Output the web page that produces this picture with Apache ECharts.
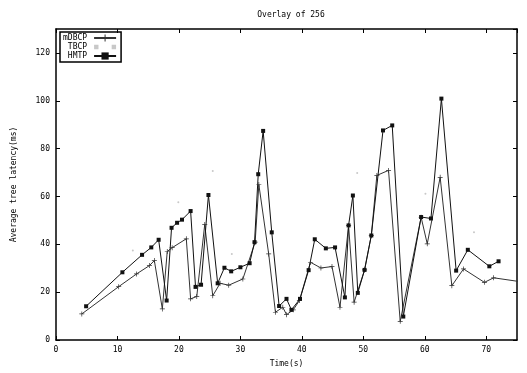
<!DOCTYPE html>
<html>
<head>
<meta charset="utf-8">
<script src="https://cdn.jsdelivr.net/npm/echarts@6/dist/echarts.min.js"></script>
<style>html,body{margin:0;padding:0;background:#fff}#c{width:527px;height:373px}</style>
</head>
<body>
<div id="c"></div>
<script>
var titleText = 'Overlay of 256';
var xName = 'Time(s)';
var yName = 'Average tree latency(ms)';
var seriesNames = ['mDBCP', 'TBCP', 'HMTP'];

var mdbcp = [[4.2,10.9],[10.2,22.3],[13.1,27.6],[15.2,31.1],[16.0,33.2],[17.3,13.0],[18.1,37.0],[18.9,38.6],[21.2,42.3],[21.9,17.2],[22.9,18.2],[24.2,48.3],[25.5,18.5],[26.7,23.7],[28.1,22.9],[30.4,25.5],[32.4,40.9],[33.0,65.0],[34.6,36.0],[35.7,11.6],[36.9,13.7],[37.5,10.6],[38.6,12.6],[39.6,16.5],[41.4,32.5],[43.1,30.1],[44.9,30.7],[46.2,13.7],[47.6,47.9],[48.5,15.8],[50.2,29.3],[51.3,43.7],[52.2,68.8],[54.1,70.9],[56.0,7.8],[59.4,51.3],[60.4,40.2],[62.5,68.0],[64.4,22.7],[66.3,29.7],[69.7,24.1],[71.2,26.0],[75.2,24.5]];

var tbcp = [[12.5,37.4],[19.9,57.6],[25.5,70.6],[28.6,36.0],[49.0,69.8],[60.1,61.1],[68.0,45.0]];

var hmtp = [[4.9,14.1],[10.8,28.3],[14.0,35.6],[15.5,38.7],[16.7,41.9],[18.0,16.5],[18.8,46.9],[19.7,49.0],[20.5,50.3],[21.9,53.9],[22.7,22.2],[23.6,23.1],[24.8,60.6],[26.3,23.7],[27.4,30.2],[28.5,28.7],[30.0,30.4],[31.5,32.1],[32.3,40.9],[32.9,69.3],[33.7,87.4],[35.1,45.0],[36.3,14.2],[37.5,17.2],[38.3,12.6],[39.7,17.2],[41.1,29.2],[42.1,42.1],[43.9,38.3],[45.4,38.7],[47.0,17.8],[47.6,47.9],[48.3,60.4],[49.1,19.7],[50.2,29.3],[51.3,43.7],[53.2,87.6],[54.7,89.7],[56.5,9.8],[59.4,51.4],[61.0,50.8],[62.7,100.9],[65.1,29.0],[67.0,37.7],[70.5,30.8],[72.0,32.9]];

var xMin = 0, xMax = 75, xStep = 10;
var yMin = 0, yMax = 130, yStep = 20;

var FONT = 'DejaVu Sans Mono';
var plusPath = 'path://M0,4.3L10,4.3L10,5.7L0,5.7ZM4.3,0L5.7,0L5.7,10L4.3,10Z';

var chart = echarts.init(document.getElementById('c'), null, {renderer: 'canvas'});

function axisCommon(extra, showLabel) {
  var o = {
    type: 'value',
    splitLine: {show: false},
    axisLine: {show: true, onZero: false, lineStyle: {color: '#000', width: 1.5}},
    axisTick: {show: true, inside: true, length: 4, lineStyle: {color: '#000', width: 1}},
    axisLabel: {show: showLabel, showMaxLabel: false, color: '#000', fontFamily: FONT, fontSize: 8, margin: 6}
  };
  for (var k in extra) o[k] = extra[k];
  return o;
}

chart.setOption({
  backgroundColor: '#fff',
  animation: false,
  title: {
    text: titleText, left: 286, top: 6, textAlign: 'center',
    textStyle: {fontFamily: FONT, fontSize: 8, fontWeight: 'normal', color: '#000'}
  },
  legend: {
    orient: 'vertical', left: 60, top: 32,
    padding: [2, 4, 2, 3], itemGap: 1, itemWidth: 22, itemHeight: 9,
    align: 'right',
    borderColor: '#000', borderWidth: 1.5,
    textStyle: {fontFamily: FONT, fontSize: 8, color: '#000', padding: [0, 2, 0, 0]},
    data: [
      {name: seriesNames[0]},
      {name: seriesNames[1], icon: 'path://M3,4.5L4,4.5L4,5.5L3,5.5ZM7,4.5L8,4.5L8,5.5L7,5.5Z'},
      {name: seriesNames[2]}
    ]
  },
  grid: {left: 56, right: 10, top: 29, bottom: 33, containLabel: false},
  xAxis: [
    axisCommon({min: xMin, max: xMax, interval: xStep, position: 'bottom',
      name: xName, nameLocation: 'middle', nameGap: 20,
      nameTextStyle: {fontFamily: FONT, fontSize: 8, color: '#000'}}, true),
    axisCommon({min: xMin, max: xMax, interval: xStep, position: 'top'}, false)
  ],
  yAxis: [
    axisCommon({min: yMin, max: yMax, interval: yStep, position: 'left',
      name: yName, nameLocation: 'middle', nameGap: 38,
      nameTextStyle: {fontFamily: FONT, fontSize: 8, color: '#000'}}, true),
    axisCommon({min: yMin, max: yMax, interval: yStep, position: 'right'}, false)
  ],
  series: [
    {
      name: seriesNames[0], type: 'line', data: mdbcp,
      symbol: plusPath, symbolSize: 5,
      itemStyle: {color: '#333'},
      lineStyle: {color: '#333', width: 1}
    },
    {
      name: seriesNames[1], type: 'line', data: tbcp,
      symbol: 'circle', symbolSize: 2,
      itemStyle: {color: '#c8c8c8'},
      lineStyle: {color: '#c8c8c8', width: 1, opacity: 0}
    },
    {
      name: seriesNames[2], type: 'line', data: hmtp,
      symbol: 'rect', symbolSize: 4,
      itemStyle: {color: '#111'},
      lineStyle: {color: '#111', width: 1}
    }
  ]
});
</script>
</body>
</html>
